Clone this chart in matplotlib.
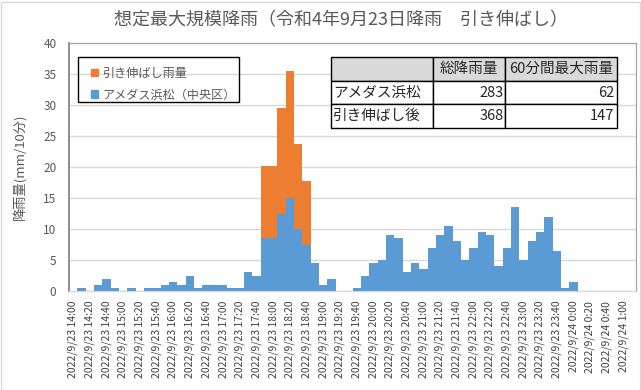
import matplotlib
matplotlib.use('Agg')
import matplotlib.pyplot as plt
from matplotlib.patches import Patch, Rectangle

plt.rcParams['font.family'] = ['Noto Sans CJK JP', 'DejaVu Sans']

# 10分間隔 2022/9/23 14:00 - 2022/9/24 1:10
times = []
for h in list(range(14, 24)) + [0, 1]:
    for m in range(0, 60, 10):
        day = 23 if h >= 14 else 24
        times.append(f"2022/9/{day} {h}:{m:02d}")
times = times[:68]

amedas = [0, 0.5, 0, 1.0, 2.0, 0.5, 0, 0.5, 0, 0.5,
          0.5, 1.0, 1.5, 1.0, 2.5, 0.5, 1.0, 1.0, 1.0, 0.5,
          0.5, 3.0, 2.5, 8.5, 8.5, 12.5, 15.0, 10.0, 7.5, 4.5,
          1.0, 2.0, 0, 0, 0.5, 2.5, 4.5, 5.0, 9.0, 8.5,
          3.0, 4.5, 3.5, 7.0, 9.0, 10.5, 8.0, 5.0, 7.0, 9.5,
          9.0, 4.0, 7.0, 13.5, 5.0, 8.0, 9.5, 12.0, 6.5, 0.5,
          1.5, 0, 0, 0, 0, 0, 0, 0]

stretch_idx = [23, 24, 25, 26, 27, 28]
stretched = [20.2, 20.2, 29.6, 35.6, 23.7, 17.8]

table_rows = ['アメダス浜松', '引き伸ばし後']
table_cols = ['総降雨量', '60分間最大雨量']
table_vals = [[283, 62], [368, 147]]

orange = '#ED7D31'
blue = '#5B9BD5'
gray_text = '#595959'

fig = plt.figure(figsize=(6.41, 3.90), dpi=100)
ax = fig.add_axes([69/641, 1-291/390, 567/641, 247.7/390])

x = list(range(len(times)))
ax.bar(stretch_idx, stretched, width=1.0, color=orange, zorder=2)
ax.bar(x, amedas, width=1.0, color=blue, zorder=3)

ax.set_xlim(-0.5, len(times) - 0.5)
ax.set_ylim(0, 40)
ax.set_yticks(range(0, 41, 5))
ax.yaxis.grid(True, color='#d9d9d9', lw=1.0, zorder=0)
ax.set_axisbelow(True)

ax.set_xticks(x[::2])
ax.set_xticklabels(times[::2], rotation=90, va='top', ha='center')
ax.tick_params(axis='x', length=0, pad=7, labelsize=7.5, labelcolor='#404040')
ax.tick_params(axis='y', length=0, pad=9, labelsize=8.5, labelcolor=gray_text)

ax.set_ylabel('降雨量(mm/10分)', fontsize=9.5, color=gray_text)
ax.yaxis.set_label_coords(-0.074, 0.5)

ax.spines['left'].set_color('#868686')
ax.spines['left'].set_linewidth(1.3)
for s in ['top', 'right']:
    ax.spines[s].set_color('#a6a6a6')
    ax.spines[s].set_linewidth(0.9)
ax.spines['bottom'].set_color('#d9d9d9')
ax.spines['bottom'].set_linewidth(1.0)

fig.text(341/641, 1-20/390, '想定最大規模降雨（令和4年9月23日降雨　引き伸ばし）',
         ha='center', va='center', fontsize=13, color=gray_text)

# 凡例
fig.patches.append(Rectangle((78/641, 1-102/390), 161/641, 45/390,
                             transform=fig.transFigure, fill=False,
                             edgecolor='black', lw=1.0, zorder=5))
handles = [Patch(color=orange, label='引き伸ばし雨量'),
           Patch(color=blue, label='アメダス浜松（中央区）')]
leg = fig.legend(handles=handles, loc='upper left',
                 bbox_to_anchor=(80/641, 1-56/390), frameon=False,
                 fontsize=8.7, handlelength=0.55, handleheight=0.55,
                 handletextpad=0.4, labelspacing=0.7, borderpad=0.4)
for t in leg.get_texts():
    t.set_color(gray_text)

# 表
cell_text = [[''] + table_cols] + [[r] + [str(v) for v in vals]
                                    for r, vals in zip(table_rows, table_vals)]
tbl = ax.table(cellText=cell_text, colWidths=[0.359, 0.251, 0.391],
               bbox=[(330.7-69)/567, (291-128.3)/247.7, 286/567, 71.6/247.7],
               zorder=6)
tbl.auto_set_font_size(False)
for (r, c), cell in tbl.get_celld().items():
    cell.set_edgecolor('black')
    cell.set_linewidth(1.0)
    cell.get_text().set_fontsize(10.5)
    cell.get_text().set_color('#262626')
    if r == 0:
        cell.set_facecolor('#d9d9d9')
        cell.get_text().set_ha('center')
    elif c == 0:
        cell.get_text().set_ha('left')
        cell.PAD = 0.02
    else:
        cell.get_text().set_ha('right')
        cell.PAD = 0.02

# 枠
fig.patches.append(Rectangle((0.5/641, 0.5/390), 639/641, 388/390,
                             transform=fig.transFigure, fill=False,
                             edgecolor='#d9d9d9', lw=1.0))

fig.savefig('out.png', dpi=100)
